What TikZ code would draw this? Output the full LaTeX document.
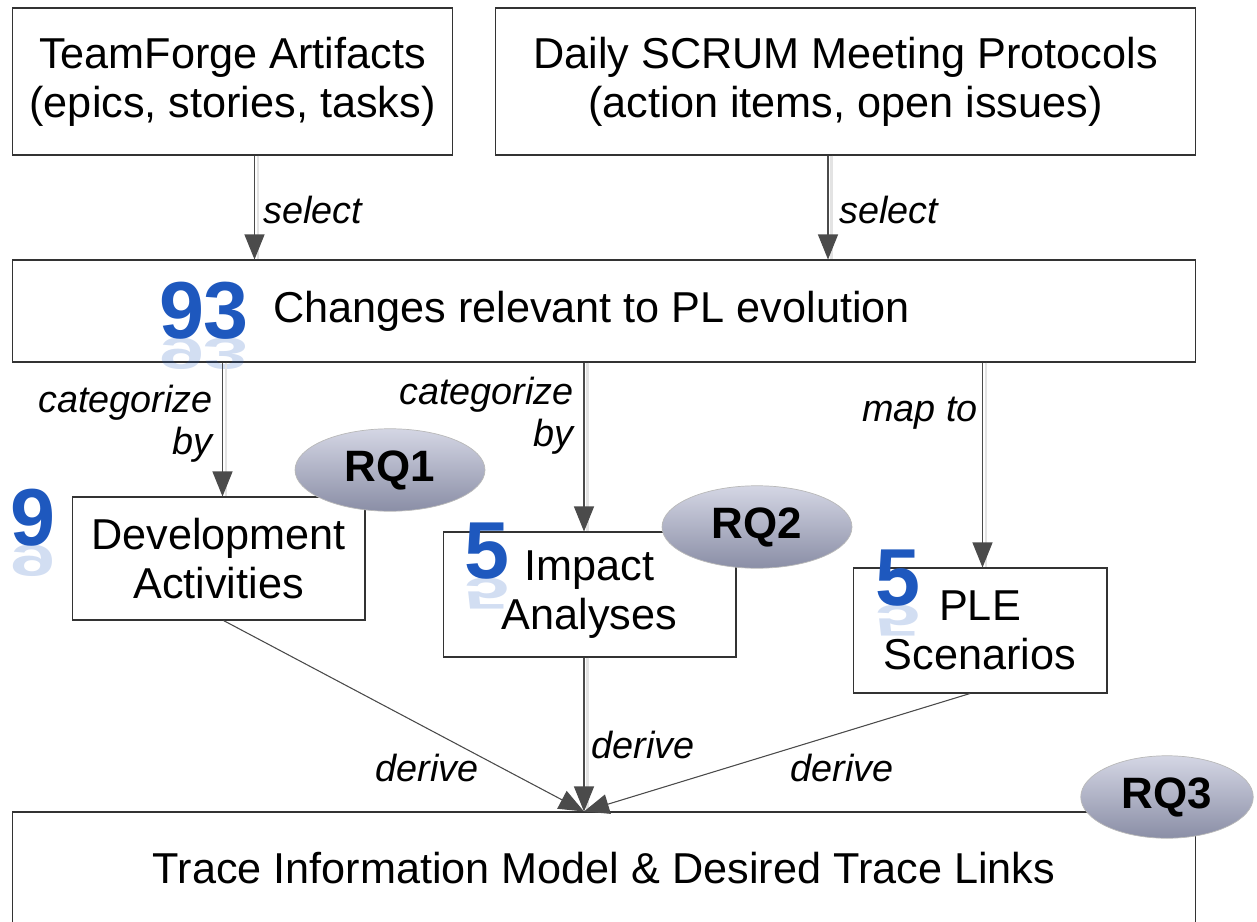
\documentclass[tikz,border=0pt]{standalone}
\usepackage{fontspec}
\setmainfont{Liberation Sans}
\usepackage{tikz}
\usetikzlibrary{arrows.meta,positioning,calc,shapes.geometric}

\definecolor{numblue}{RGB}{30,88,190}
\definecolor{rqtop}{RGB}{212,214,228}
\definecolor{rqbot}{RGB}{138,142,166}
\definecolor{linegray}{RGB}{75,75,75}

\begin{document}
\begin{tikzpicture}[
  x=0.02cm, y=-0.02cm,
  box/.style={draw=black!80, line width=0.6pt, align=center, inner sep=0pt,
    font=\fontsize{24.6}{28}\selectfont},
  rq/.style={ellipse, draw=gray!55, top color=rqtop, bottom color=rqbot,
    minimum width=3.8cm, minimum height=1.65cm, inner sep=0pt,
    font=\fontsize{25}{28}\selectfont\bfseries},
  arrow/.style={-{Triangle[length=0.5cm,width=0.4cm]}, draw=linegray, fill=linegray,
    line width=0.6pt},
  shade/.style={draw=gray!22, line width=1.4pt, transform canvas={xshift=2pt}},
  lbl/.style={font=\fontsize{21.5}{24}\selectfont\itshape, align=right, inner sep=0pt},
  count/.style={text=numblue, font=\fontsize{46}{46}\selectfont\bfseries, inner sep=0pt, anchor=base},
  mirror/.style={count, yscale=-0.55, opacity=0.2},
]
  \useasboundingbox (0,0) rectangle (1257,922);

  % Source boxes
  \node[box, minimum width=8.82cm, minimum height=2.94cm] (tf) at (232.5,81.5)
    {TeamForge Artifacts\\(epics, stories, tasks)};
  \node[box, minimum width=14.02cm, minimum height=2.94cm] (scrum) at (845.5,81.5)
    {Daily SCRUM Meeting Protocols\\(action items, open issues)};

  % Changes
  \node[box, minimum width=23.68cm, minimum height=2.04cm] (chg) at (604,311)
    {Changes relevant to PL evolution\hspace*{0.5cm}};

  % Classifications
  \node[box, minimum width=5.86cm, minimum height=2.46cm] (dev) at (218.5,558.5)
    {Development\\Activities};
  \node[box, minimum width=5.86cm, minimum height=2.5cm] (imp) at (589.5,594.5)
    {Impact\\Analyses};
  \node[box, minimum width=5.08cm, minimum height=2.5cm] (ple) at (980,630.5)
    {PLE\\Scenarios};

  % Trace model
  \node[box, minimum width=23.68cm, minimum height=2.24cm] (tim) at (604,868)
    {Trace Information Model \& Desired Trace Links};

  % Arrow anchors
  \coordinate (hub) at ($(tim.north)+(-20,0)$);
  \coordinate (tfout) at ($(tf.south)+(22,0)$);
  \coordinate (scout) at ($(scrum.south)+(-17.5,0)$);
  \coordinate (devin) at ($(dev.north)+(4,0)$);
  \coordinate (impin) at ($(imp.north)+(-5.5,0)$);
  \coordinate (plein) at ($(ple.north)+(2.5,0)$);
  \coordinate (devout) at ($(dev.south)+(5,0)$);
  \coordinate (impout) at ($(imp.south)+(-5.5,0)$);
  \coordinate (pleout) at ($(ple.south)+(-10,0)$);

  % Counts with reflection
  \node[count] (n93) at (204,338) {93};
  \node[mirror] at (204,338) {93};
  \node[count] (n9) at (33,545) {9};
  \node[mirror] at (33,545) {9};
  \node[count] (n5a) at (487,578) {5};
  \node[mirror] at (487,578) {5};
  \node[count] (n5b) at (898,605) {5};
  \node[mirror] at (898,605) {5};

  % Arrows
  \foreach \a/\b in {tfout/tfout |- chg.north, scout/scout |- chg.north,
      devin |- chg.south/devin, impin |- chg.south/impin, plein |- chg.south/plein,
      impout/hub} {
    \draw[shade] (\a) -- (\b);
    \draw[arrow] (\a) -- (\b);
  }
  \draw[arrow] (devout) -- (hub);
  \draw[arrow] (pleout) -- (hub);

  % Arrow labels
  \node[lbl] (sel1) at (313,210) {select};
  \node[lbl] (sel2) at (889,210) {select};
  \node[lbl, anchor=east] (cat1) at (213,424) {categorize\\by};
  \node[lbl, anchor=east] (cat2) at (574,416) {categorize\\by};
  \node[lbl] (map) at (920,413) {map to};
  \node[lbl] (der1) at (427,768) {derive};
  \node[lbl] (der2) at (643,745) {derive};
  \node[lbl] (der3) at (842,768) {derive};

  % Research questions
  \node[rq] (rq1) at (390,470) {RQ1};
  \node[rq] (rq2) at (757,527) {RQ2};
  \node[rq, minimum width=3.45cm] (rq3) at (1167,797) {RQ3};
\end{tikzpicture}
\end{document}
